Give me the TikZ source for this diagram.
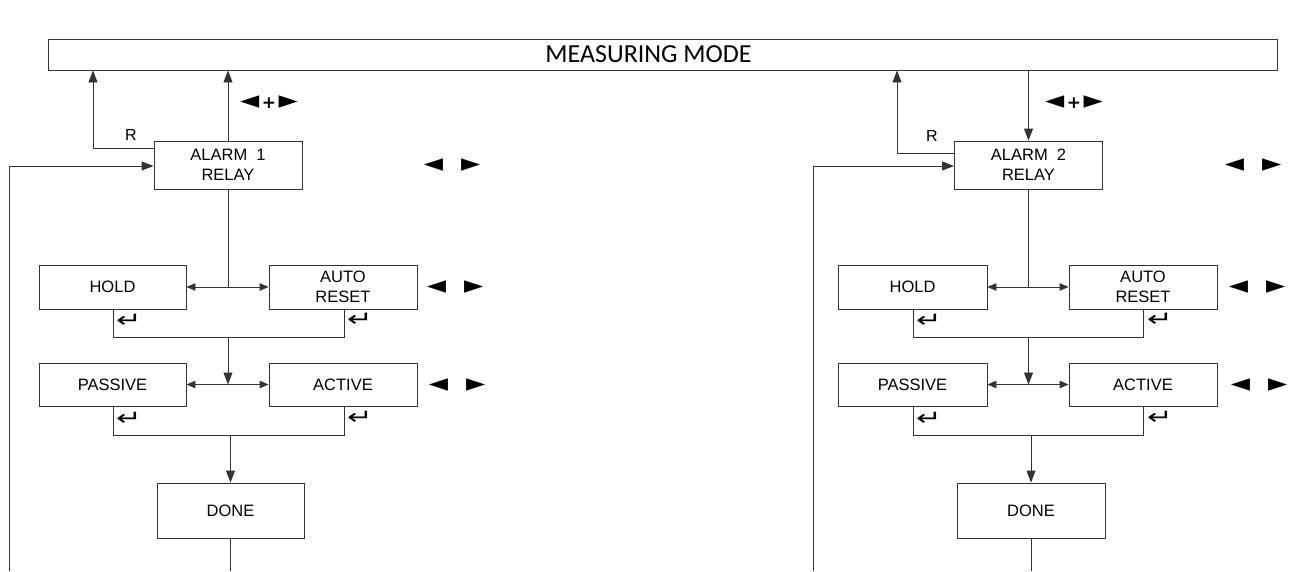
\documentclass[tikz,border=0pt]{standalone}
\usepackage{fontspec}
\setmainfont{Liberation Sans}
\newfontfamily\titlefont{Carlito}
\newfontfamily\symfont{DejaVu Sans}
\usetikzlibrary{arrows.meta,calc}
\newcommand{\retsym}{\scalebox{1.8}[1.25]{↵}}
\newcommand{\lrsym}{◄\hspace{18pt}►}
\newcommand{\lrplus}{◄\kern2.5pt{\fontsize{17}{17}\selectfont\bfseries +}\kern2.5pt►}
\begin{document}
\begin{tikzpicture}[x=1pt,y=-1pt,
  line/.style={draw=black!80,line width=0.9pt},
  boxnode/.style={line,rectangle,minimum width=148pt,align=center,font=\fontsize{16.5}{20}\selectfont,inner sep=0pt},
  arr/.style={line,-{Triangle[length=12pt,width=9pt]}},
  darr/.style={line,{Triangle[length=9pt,width=7.5pt]}-{Triangle[length=9pt,width=7.5pt]}},
  sym/.style={font=\symfont\fontsize{25}{25}\selectfont,inner sep=0pt},
  ret/.style={font=\symfont\fontsize{17}{17}\selectfont,inner sep=0pt},
  lbl/.style={font=\fontsize{16}{16}\selectfont,inner sep=0pt}]
\useasboundingbox (0,0) rectangle (1293,571);
% measuring mode
\node[line,rectangle,minimum width=1229pt,minimum height=31pt,inner sep=0pt,font=\titlefont\fontsize{26}{26}\selectfont] (meas) at (662.5,54.5) {MEASURING MODE\kern28pt\null};

% ===== left column =====
\node[boxnode,minimum height=48pt] (a1) at (228,165) {ALARM\ \ 1\\RELAY};
\node[boxnode,minimum width=147pt,minimum height=44pt] (hold1) at (112.5,287) {HOLD};
\node[boxnode,minimum height=44pt] (auto1) at (343,287) {AUTO\\RESET};
\node[boxnode,minimum width=147pt,minimum height=43pt] (pass1) at (112.5,384.5) {PASSIVE};
\node[boxnode,minimum height=43pt] (act1) at (343,384.5) {ACTIVE};
\node[boxnode,minimum width=147pt,minimum height=55pt] (done1) at (230.5,510.5) {DONE};

\coordinate (r1) at (93,148);
\coordinate (fb1) at (9,571);
\coordinate (j1) at (228,287);
\coordinate (b1l) at (113,337);
\coordinate (b1r) at (344,337);
\coordinate (j1b) at (228,337);
\coordinate (j1c) at (228,384.5);
\coordinate (b2l) at (113,435);
\coordinate (b2r) at (344,435);
\coordinate (j1d) at (230.5,435);
\coordinate (e1) at (230.5,571);

\draw[arr] (r1 -| a1.west) -- (r1) -- (r1 |- meas.south);
\draw[arr] (a1.north) -- (a1.north |- meas.south);
\draw[arr] (fb1) -- (fb1 |- 0,166) -- (a1.west |- 0,166);
\draw[line] (a1.south) -- (j1);
\draw[darr] (hold1.east) -- (auto1.west);
\draw[line] (b1l |- hold1.south) -- (b1l) -- (b1r) -- (b1r |- auto1.south);
\draw[arr] (j1b) -- (j1c);
\draw[darr] (pass1.east) -- (act1.west);
\draw[line] (b2l |- pass1.south) -- (b2l) -- (b2r) -- (b2r |- act1.south);
\draw[arr] (j1d) -- (done1.north);
\draw[line] (done1.south) -- (e1);

\node[lbl] (rl1) at (131,135) {R};
\node[sym] (k1a) at (269,102) {\lrplus};
\node[sym] (k1b) at (452,165) {\lrsym};
\node[sym] (k1c) at (455,287) {\lrsym};
\node[sym] (k1d) at (457,385) {\lrsym};
\node[ret] (e1a) at (129,321) {\retsym};
\node[ret] (e1b) at (360,320) {\retsym};
\node[ret] (e1c) at (129,419) {\retsym};
\node[ret] (e1d) at (360,418) {\retsym};

% ===== right column =====
\node[boxnode,minimum height=48pt] (a2) at (1028.5,165) {ALARM\ \ 2\\RELAY};
\node[boxnode,minimum width=149pt,minimum height=44pt] (hold2) at (912.5,287) {HOLD};
\node[boxnode,minimum height=44pt] (auto2) at (1143,287) {AUTO\\RESET};
\node[boxnode,minimum width=149pt,minimum height=43pt] (pass2) at (912.5,384.5) {PASSIVE};
\node[boxnode,minimum height=43pt] (act2) at (1143,384.5) {ACTIVE};
\node[boxnode,minimum height=55pt] (done2) at (1031,510.5) {DONE};

\coordinate (r2) at (897,153);
\coordinate (fb2) at (813,571);
\coordinate (j2) at (1028.5,287);
\coordinate (c1l) at (913,337);
\coordinate (c1r) at (1143,337);
\coordinate (j2b) at (1028.5,337);
\coordinate (j2c) at (1028.5,384.5);
\coordinate (c2l) at (913,435);
\coordinate (c2r) at (1143,435);
\coordinate (j2d) at (1031,435);
\coordinate (e2) at (1031,571);

\draw[arr] (r2 -| a2.west) -- (r2) -- (r2 |- meas.south);
\draw[arr] (a2.north |- meas.south) -- (a2.north);
\draw[arr] (fb2) -- (fb2 |- 0,166) -- (a2.west |- 0,166);
\draw[line] (a2.south) -- (j2);
\draw[darr] (hold2.east) -- (auto2.west);
\draw[line] (c1l |- hold2.south) -- (c1l) -- (c1r) -- (c1r |- auto2.south);
\draw[arr] (j2b) -- (j2c);
\draw[darr] (pass2.east) -- (act2.west);
\draw[line] (c2l |- pass2.south) -- (c2l) -- (c2r) -- (c2r |- act2.south);
\draw[arr] (j2d) -- (done2.north);
\draw[line] (done2.south) -- (e2);

\node[lbl] (rl2) at (932,136) {R};
\node[sym] (k2a) at (1074,102) {\lrplus};
\node[sym] (k2b) at (1253,165) {\lrsym};
\node[sym] (k2c) at (1257,287) {\lrsym};
\node[sym] (k2d) at (1259,385) {\lrsym};
\node[ret] (e2a) at (929,321) {\retsym};
\node[ret] (e2b) at (1160,320) {\retsym};
\node[ret] (e2c) at (929,419) {\retsym};
\node[ret] (e2d) at (1160,418) {\retsym};
\end{tikzpicture}
\end{document}
